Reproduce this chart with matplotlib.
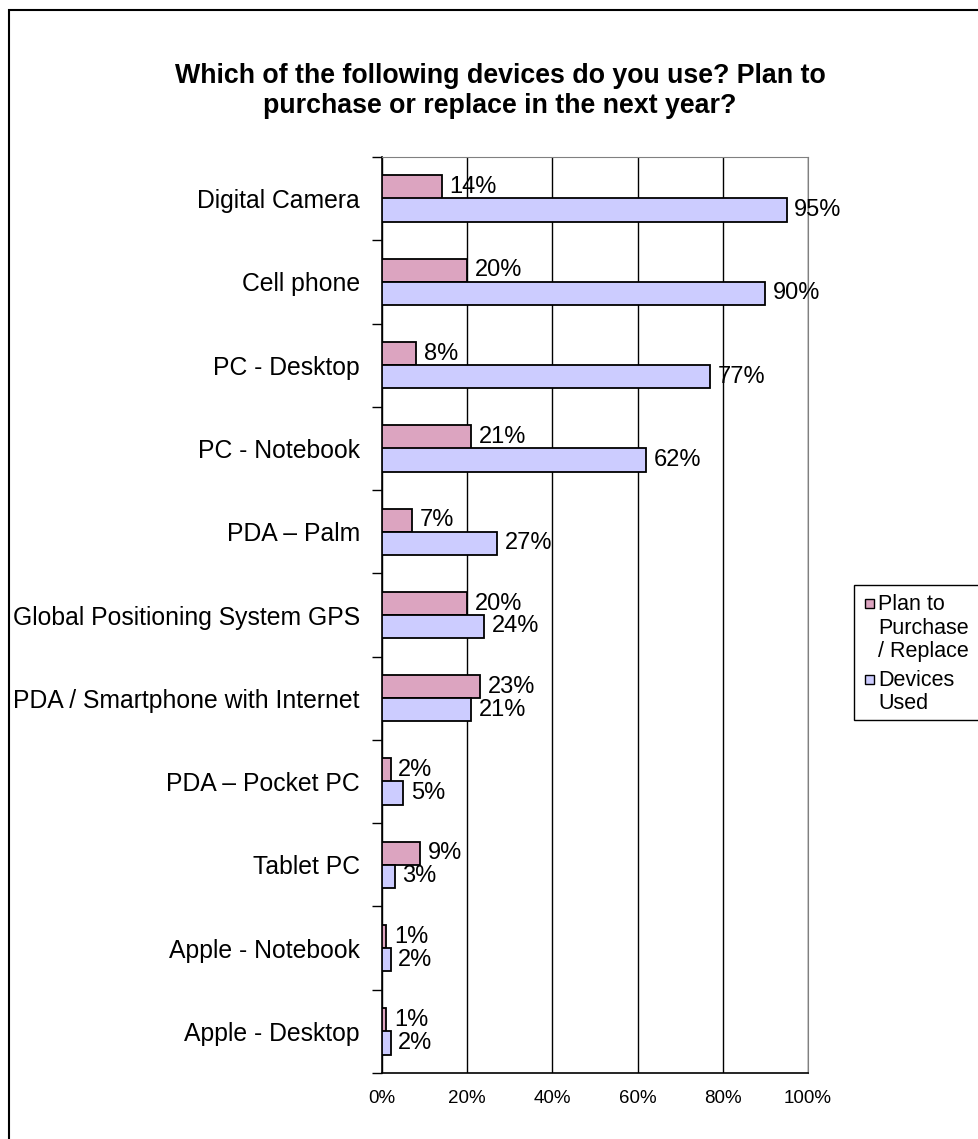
import numpy as np
import matplotlib.pyplot as plt
from matplotlib.patches import Rectangle

plt.rcParams['font.family'] = ['Liberation Sans', 'DejaVu Sans']

devices = ['Digital Camera', 'Cell phone', 'PC - Desktop', 'PC - Notebook',
           'PDA \u2013 Palm', 'Global Positioning System GPS',
           'PDA / Smartphone with Internet', 'PDA \u2013 Pocket PC',
           'Tablet PC', 'Apple - Notebook', 'Apple - Desktop']
plan_to_buy = [14, 20, 8, 21, 7, 20, 23, 2, 9, 1, 1]
devices_used = [95, 90, 77, 62, 27, 24, 21, 5, 3, 2, 2]

title = 'Which of the following devices do you use? Plan to\npurchase or replace in the next year?'

pink = '#DCA4C0'
lilac = '#CCCCFF'

W, H = 979, 1139
fig = plt.figure(figsize=(W / 100, H / 100), dpi=100)
ax = fig.add_axes([382 / W, 1 - 1073 / H, (808 - 382) / W, (1073 - 157) / H])

y = np.arange(len(devices))
bh = 0.28
ax.barh(y - 0.138, plan_to_buy, height=bh, color=pink, edgecolor='black', linewidth=1.3, zorder=3)
ax.barh(y + 0.138, devices_used, height=bh, color=lilac, edgecolor='black', linewidth=1.3, zorder=3)

for i in range(len(devices)):
    ax.annotate(f'{plan_to_buy[i]}%', (plan_to_buy[i], y[i] - 0.138), xytext=(5.5, 0),
                textcoords='offset points', va='center', ha='left', fontsize=17, zorder=4)
    ax.annotate(f'{devices_used[i]}%', (devices_used[i], y[i] + 0.138), xytext=(5.5, 0),
                textcoords='offset points', va='center', ha='left', fontsize=17, zorder=4)

ax.set_xlim(0, 100)
ax.set_ylim(len(devices) - 0.5, -0.5)
ax.set_xticks([0, 20, 40, 60, 80, 100])
ax.set_xticklabels([f'{v}%' for v in [0, 20, 40, 60, 80, 100]], fontsize=13.5)
ax.tick_params(axis='x', length=0, pad=12)
ax.set_yticks(y)
ax.set_yticklabels(devices, fontsize=17.8)
ax.tick_params(axis='y', which='major', length=0, pad=16)
ax.set_yticks(np.arange(len(devices) + 1) - 0.5, minor=True)
ax.tick_params(axis='y', which='minor', length=7, width=1, direction='out')
ax.xaxis.grid(True, color='black', linewidth=1)
ax.set_axisbelow(True)
for side in ['top', 'right']:
    ax.spines[side].set_color('#808080')
for side in ['left', 'bottom']:
    ax.spines[side].set_color('black')
    ax.spines[side].set_linewidth(1.2)

fig.text(500 / W, 1 - 91 / H, title, ha='center', va='center', fontsize=19.3,
         fontweight='bold', linespacing=1.2)

# legend box, running off the right edge
fig.patches.append(Rectangle((854 / W, 1 - 720 / H), 0.2, 135 / H, transform=fig.transFigure,
                             facecolor='white', edgecolor='black', linewidth=1))
fig.patches.append(Rectangle((865 / W, 1 - 608 / H), 9 / W, 9 / H, transform=fig.transFigure,
                             facecolor=pink, edgecolor='black', linewidth=1))
fig.text(878 / W, 1 - 628 / H, 'Plan to\nPurchase\n/ Replace', ha='left', va='center',
         fontsize=15.5, linespacing=1.13)
fig.patches.append(Rectangle((865 / W, 1 - 684 / H), 9 / W, 9 / H, transform=fig.transFigure,
                             facecolor=lilac, edgecolor='black', linewidth=1))
fig.text(878 / W, 1 - 692 / H, 'Devices\nUsed', ha='left', va='center',
         fontsize=15.5, linespacing=1.13)

# outer chart border
fig.patches.append(Rectangle((9 / W, -0.01), 1.0, 1 - 10 / H + 0.01, transform=fig.transFigure,
                             facecolor='none', edgecolor='black', linewidth=1.5))

fig.savefig('out.png', dpi=100)
